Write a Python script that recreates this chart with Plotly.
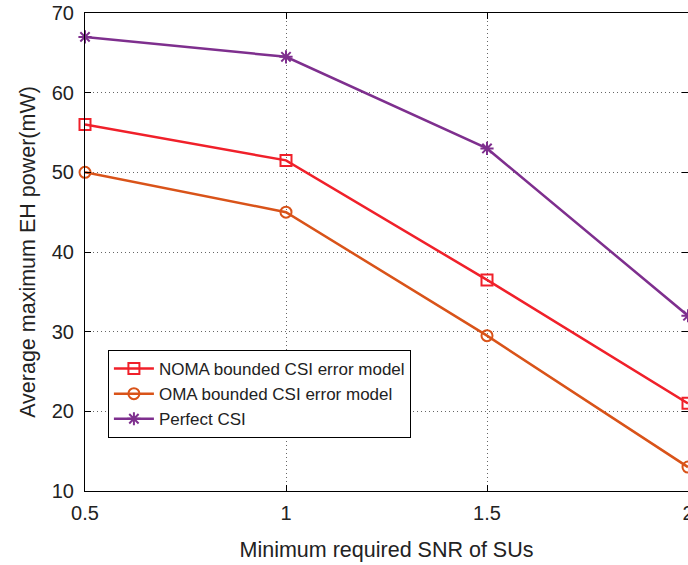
import plotly.graph_objects as go

snr = [0.5, 1, 1.5, 2]
noma = [56, 51.5, 36.5, 21]
oma = [50, 45, 29.5, 13]
perfect = [67, 64.5, 53, 32]

names = ["NOMA bounded CSI error model", "OMA bounded CSI error model", "Perfect CSI"]
colors = ["#F0202A", "#D95319", "#7E2F8E"]
symbols = ["square-open", "circle-open", "asterisk-open"]

fig = go.Figure()
for y, n, c, s in zip([noma, oma, perfect], names, colors, symbols):
    fig.add_trace(go.Scatter(
        x=snr, y=y, name=n, mode="lines+markers",
        line=dict(color=c, width=2.5),
        marker=dict(symbol=s, size=11, color=c, line=dict(color=c, width=2)),
        cliponaxis=False,
    ))

FONT = "Liberation Sans, Arial"
axis_common = dict(
    showline=True, linecolor="black", linewidth=1, mirror="ticks",
    ticks="inside", ticklen=6, tickcolor="black",
    showgrid=True, gridcolor="#666666", griddash="1px,3px", gridwidth=1,
    zeroline=False, tickfont=dict(family=FONT, size=20, color="#222"),
    ticklabeloverflow="allow", automargin=False,
)

fig.update_layout(
    width=688, height=565,
    margin=dict(l=85, r=0, t=13, b=74),
    paper_bgcolor="white", plot_bgcolor="white",
    font=dict(family=FONT, color="#222"),
    xaxis=dict(range=[0.5, 2], tickvals=[0.5, 1, 1.5, 2], ticktext=["0.5", "1", "1.5", "2"],
               title=dict(text="Minimum required SNR of SUs", font=dict(size=21.5), standoff=18),
               ticklabelstandoff=4,
               **axis_common),
    yaxis=dict(range=[10, 70], tickvals=[10, 20, 30, 40, 50, 60, 70],
               title=dict(text="Average maximum EH power(mW)", font=dict(size=21.5), standoff=10),
               ticklabelstandoff=6,
               **axis_common),
    legend=dict(x=0.038, y=0.295, xanchor="left", yanchor="top",
                bgcolor="white", bordercolor="black", borderwidth=1,
                font=dict(size=17, color="#222"), itemwidth=40, tracegroupgap=0),
    showlegend=True,
)

fig.write_html("out.html")
